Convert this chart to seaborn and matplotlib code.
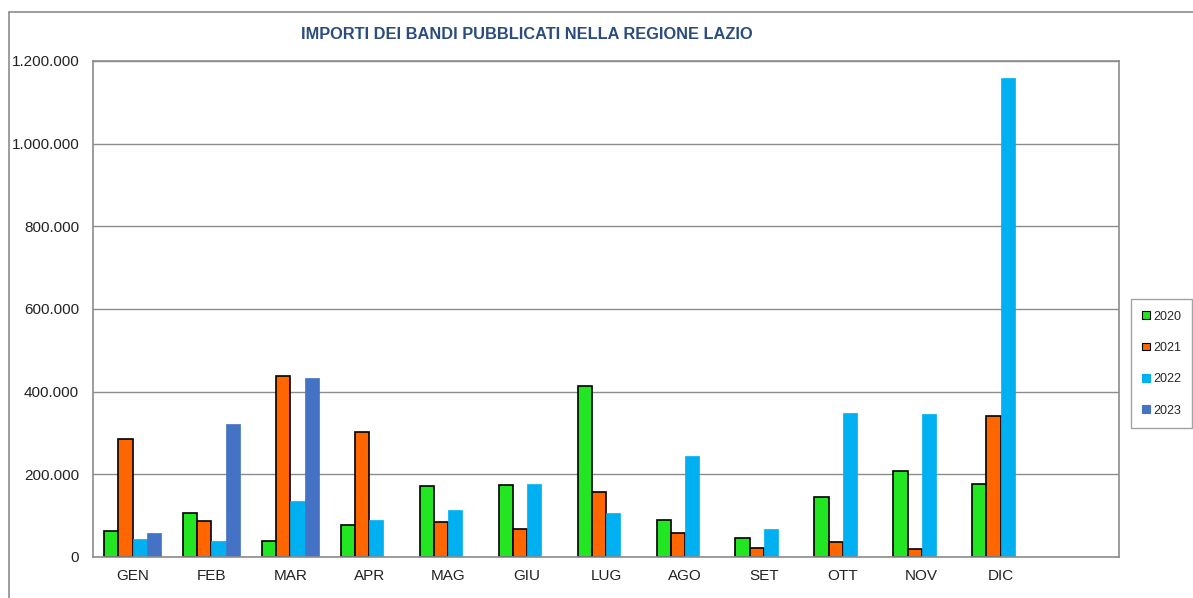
import numpy as np
import pandas as pd
import matplotlib.pyplot as plt
import seaborn as sns
from matplotlib.ticker import FuncFormatter, FixedLocator
from matplotlib.lines import Line2D

# Months (13th slot is empty in the original chart)
mesi = ["GEN", "FEB", "MAR", "APR", "MAG", "GIU", "LUG", "AGO", "SET", "OTT", "NOV", "DIC", ""]
anni = ["2020", "2021", "2022", "2023"]

v2020 = [62000, 107000, 39000, 78000, 171000, 173000, 414000, 90000, 47000, 144000, 209000, 177000, np.nan]
v2021 = [285000, 88000, 438000, 303000, 85000, 68000, 157000, 59000, 22000, 36000, 19000, 340000, np.nan]
v2022 = [43000, 39000, 135000, 90000, 114000, 177000, 107000, 244000, 67000, 348000, 345000, 1158000, np.nan]
v2023 = [58000, 321000, 432000, np.nan, np.nan, np.nan, np.nan, np.nan, np.nan, np.nan, np.nan, np.nan, np.nan]

colori = ["#22E622", "#FF6600", "#00B0F0", "#4472C4"]

df = pd.DataFrame({"mese": mesi * 4,
                   "anno": sum([[a] * len(mesi) for a in anni], []),
                   "importo": v2020 + v2021 + v2022 + v2023})

sns.set_style("white")
plt.rcParams["font.family"] = ["Liberation Sans", "DejaVu Sans"]

fig = plt.figure(figsize=(11.93, 5.98), dpi=100)
ax = fig.add_axes([0.078, 0.0686, 0.86, 0.8294])

sns.barplot(data=df, x="mese", y="importo", hue="anno", order=mesi, hue_order=anni,
            palette=colori, saturation=1, width=0.72, gap=0, dodge=True,
            errorbar=None, ax=ax, legend=False)

# black outlines only on 2020 and 2021 bars
for i, (cont, col) in enumerate(zip(ax.containers, colori)):
    for bar in cont:
        if i < 2:
            bar.set_edgecolor("black")
            bar.set_linewidth(1.2)
        else:
            bar.set_edgecolor(col)
            bar.set_linewidth(0.5)

ax.set_ylim(0, 1200000)
ax.set_xlim(-0.5, 12.5)
ax.set_yticks(np.arange(0, 1200001, 200000))
ax.yaxis.set_major_formatter(FuncFormatter(lambda v, p: f"{v:,.0f}".replace(",", ".")))
ax.yaxis.grid(True, color="#8c8c8c", linewidth=1)
ax.set_axisbelow(True)

ax.set_xticks(range(len(mesi)))
ax.set_xticklabels(mesi)
ax.xaxis.set_minor_locator(FixedLocator(np.arange(-0.5, 13, 1)))
ax.tick_params(axis="x", which="major", length=0, pad=9, labelsize=11, labelcolor="#222222")
ax.tick_params(axis="x", which="minor", length=3, width=1, color="#8c8c8c", direction="out")
ax.tick_params(axis="y", length=3, width=1, color="#8c8c8c", direction="out", pad=7,
               labelsize=11, labelcolor="#222222")

for s in ax.spines.values():
    s.set_visible(True)
    s.set_color("#8c8c8c")
    s.set_linewidth(1.2)

ax.set_xlabel("")
ax.set_ylabel("")

fig.text(0.442, 0.942, "IMPORTI DEI BANDI PUBBLICATI NELLA REGIONE LAZIO",
         ha="center", va="center", fontsize=11.8, fontweight="bold", color="#2B4C7E")

# legend with small squares
handles = [plt.Rectangle((0, 0), 1, 1, facecolor=c,
                         edgecolor="black" if i < 2 else c, linewidth=0.8)
           for i, c in enumerate(colori)]
leg = fig.legend(handles, anni, loc="center left", bbox_to_anchor=(0.948, 0.392),
                 fontsize=9, handlelength=0.6, handleheight=0.6, handletextpad=0.25,
                 labelspacing=1.55, borderpad=0.9, borderaxespad=0, fancybox=False,
                 frameon=True, edgecolor="#8c8c8c")
leg.get_frame().set_linewidth(1)

# outer chart frame (top and left edges visible)
fig.add_artist(Line2D([0.0075, 1.0], [0.98, 0.98], color="#8c8c8c", linewidth=1.2))
fig.add_artist(Line2D([0.0075, 0.0075], [0.0, 0.98], color="#8c8c8c", linewidth=1.2))

fig.savefig("out.png", dpi=100)
